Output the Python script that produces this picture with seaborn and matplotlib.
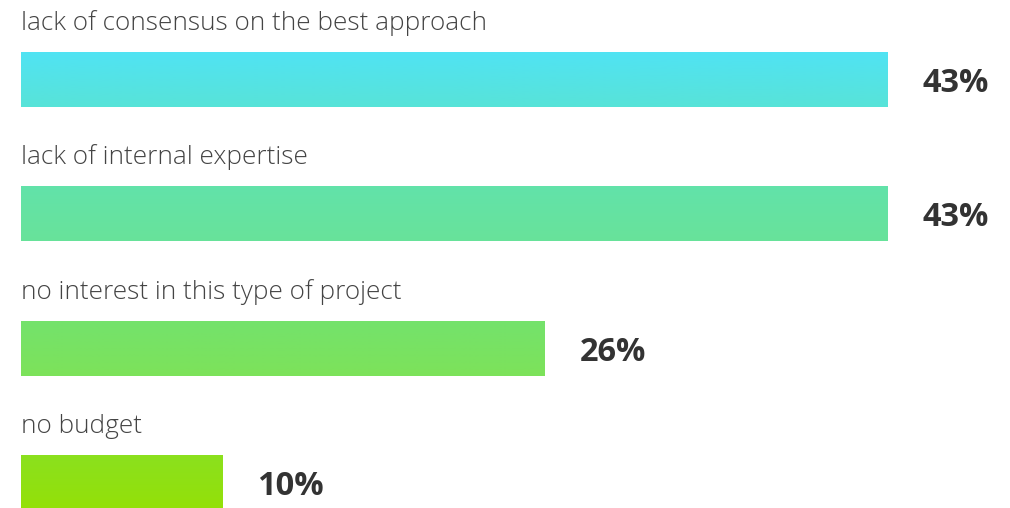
import numpy as np
import pandas as pd
import matplotlib
matplotlib.use("Agg")
import matplotlib.pyplot as plt
from matplotlib.colors import LinearSegmentedColormap
import seaborn as sns

# Survey answers and their shares (%)
reasons = [
    "lack of consensus on the best approach",
    "lack of internal expertise",
    "no interest in this type of project",
    "no budget",
]
shares = [43, 43, 26, 10]

# Top/bottom colours of each bar's vertical gradient
grad_top = ["#50E3F4", "#62E2AA", "#74E26C", "#8BE11E"]
grad_bottom = ["#58E3D8", "#68E39A", "#7DE25A", "#94E008"]

sns.set_theme(style="white")
plt.rcParams["font.family"] = ["Open Sans", "DejaVu Sans"]

df = pd.DataFrame({"reason": reasons, "share": shares})

W, H = 1010, 508
fig = plt.figure(figsize=(W / 100, H / 100), dpi=100)
ax = fig.add_axes([0, 0, 1, 1])

sns.barplot(data=df, y="reason", x="share", hue="reason", palette=grad_top,
            orient="h", width=0.41, legend=False, ax=ax, linewidth=0)

# Map the data range onto the canvas: bar origin at x=21px, 43% ends at 887px
px_per_unit = (887 - 21) / 43
step = 134.4
xlim = (-21 / px_per_unit, (W - 21) / px_per_unit)
ylim = ((H - 79.5) / step, -79.5 / step)

# Replace flat fills with vertical gradients clipped to each bar
for patch, c0, c1 in zip(ax.patches, grad_top, grad_bottom):
    patch.set_facecolor("none")
    x0, y0 = patch.get_x(), patch.get_y()
    w, h = patch.get_width(), patch.get_height()
    cmap = LinearSegmentedColormap.from_list("g", [c0, c1])
    grad = np.linspace(0, 1, 64).reshape(-1, 1)
    im = ax.imshow(grad, cmap=cmap, aspect="auto",
                   extent=(x0, x0 + w, y0 + h, y0), origin="upper",
                   interpolation="bilinear", zorder=2)
    im.set_clip_path(patch)

ax.set_xlim(*xlim)
ax.set_ylim(*ylim)
ax.axis("off")

for i, (reason, share) in enumerate(zip(reasons, shares)):
    ax.text(0, i - 49.5 / step, reason, ha="left", va="baseline",
            fontsize=18.8, color="#444444", fontweight="light")
    ax.text(share + 35 / px_per_unit, i + 4 / step, f"{share}%",
            ha="left", va="center", fontsize=23.5, fontweight="bold",
            color="#333333")

fig.savefig("out.png", dpi=100)
